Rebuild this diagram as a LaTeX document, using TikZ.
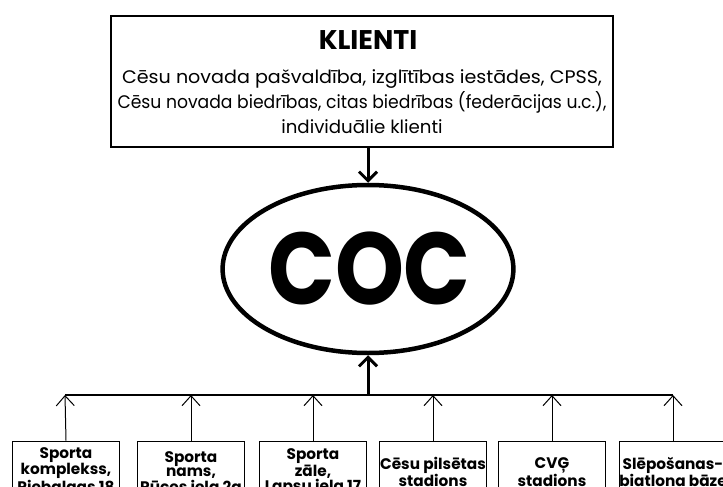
\documentclass[tikz,border=0pt]{standalone}
\usepackage{fontspec}
\setmainfont{Poppins}
\usetikzlibrary{arrows.meta,shapes.geometric}
\tikzset{
  topbox/.style={draw, line width=1.6pt, minimum width=502pt, minimum height=131pt, inner sep=0pt},
  cocshape/.style={draw, ellipse, line width=4.5pt, minimum width=290pt, minimum height=168pt, inner sep=0pt,
    font=\fontsize{102}{102}\selectfont\bfseries},
  leafbox/.style={draw, line width=0.8pt, minimum width=107pt, minimum height=62pt, inner sep=0pt, align=center,
    font=\fontsize{15.3}{14.2}\selectfont\bfseries},
  mainarrow/.style={line width=3pt, -{Straight Barb[length=9pt,width=18pt,line width=3pt]}},
  leafarrow/.style={line width=1pt, -{Straight Barb[length=10pt,width=18pt,line width=1pt]}},
  bus/.style={line width=1.2pt}
}
\begin{document}
\begin{tikzpicture}[x=1pt,y=-1pt]
\useasboundingbox (0,0) rectangle (723,487);
\clip (0,0) rectangle (723,487);
\fill[white] (0,0) rectangle (723,487);
\node[topbox] (klienti) at (362,81.5) {};
\node[font=\fontsize{27}{27}\selectfont\bfseries] (ktitle) at (368,40) {KLIENTI};
\node[align=center, font=\fontsize{18.2}{25}\selectfont, inner sep=0pt] (ktext) at (362,102) {\scalebox{1.05}[1]{Cēsu novada pašvaldība, izglītības iestādes, CPSS,}\\\scalebox{0.945}[1]{Cēsu novada biedrības, citas biedrības (federācijas u.c.),}\\individuālie klienti};
\node[cocshape] (coc) at (368,269) {\hspace{3pt}\scalebox{0.86}[1]{COC}};
\draw[mainarrow] (klienti.south -| coc.north) -- (coc.north);
\coordinate (busc) at (368,395);
\draw[mainarrow] (busc) -- (coc.south);
\coordinate (busl) at (65,395);
\coordinate (busr) at (673,395);
\draw[bus] (busl) -- (busr);
\node[leafbox] (b1) at (66,472) {Sporta\\komplekss,\\Piebalgas 18};
\node[leafbox] (b2) at (191,472) {Sporta\\nams,\\Pūces iela 2a};
\node[leafbox] (b3) at (313,472) {Sporta\\zāle,\\Lapsu iela 17};
\node[leafbox] (b4) at (433,472) {Cēsu pilsētas\\stadions};
\node[leafbox] (b5) at (552,472) {CVĢ\\stadions};
\node[leafbox] (b6) at (673,472) {Slēpošanas-\\biatlona bāze};
\foreach \b/\x in {b1/65,b2/191,b3/313,b4/433,b5/552,b6/673}{
  \draw[leafarrow] (\b.north) -- (\x,395);
}
\end{tikzpicture}
\end{document}
